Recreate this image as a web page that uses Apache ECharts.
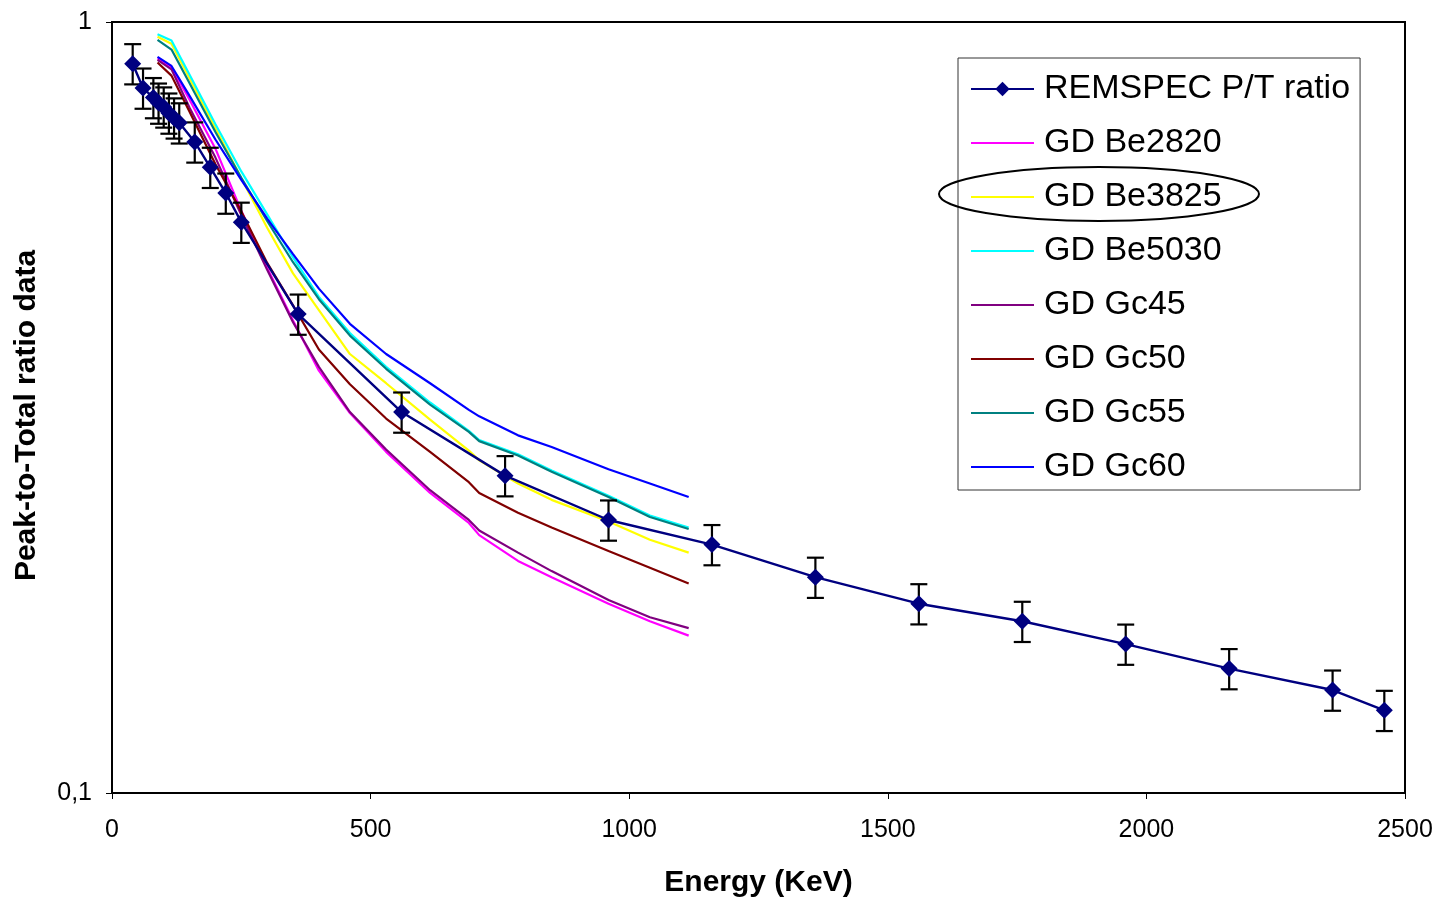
<!DOCTYPE html>
<html>
<head>
<meta charset="utf-8">
<script src="https://cdn.jsdelivr.net/npm/echarts@6/dist/echarts.min.js"></script>
<style>
  html, body { margin: 0; padding: 0; background: #fff; }
  #chart { width: 1442px; height: 903px; }
</style>
</head>
<body>
<div id="chart"></div>
<script>
// ---- data ----
const energyREM = [40, 60, 80, 90, 100, 110, 120, 130, 160, 190, 220, 250, 360, 560, 760, 960, 1160, 1360, 1560, 1760, 1960, 2160, 2360, 2460];
const ptREM = [0.883, 0.821, 0.798, 0.785, 0.776, 0.762, 0.751, 0.740, 0.699, 0.648, 0.600, 0.550, 0.418, 0.312, 0.258, 0.226, 0.210, 0.1905, 0.176, 0.167, 0.156, 0.145, 0.136, 0.128];
const errFraction = 0.06;

const energyGD = [88, 115, 150, 200, 250, 300, 350, 400, 460, 530, 615, 690, 710, 785, 850, 960, 1040, 1115];
const gdBe2820 = [0.897, 0.873, 0.793, 0.685, 0.569, 0.480, 0.410, 0.353, 0.311, 0.277, 0.245, 0.224, 0.216, 0.200, 0.1905, 0.176, 0.167, 0.160];
const gdBe3825 = [0.957, 0.937, 0.845, 0.728, 0.627, 0.541, 0.472, 0.423, 0.371, 0.340, 0.305, 0.278, 0.270, 0.252, 0.240, 0.225, 0.213, 0.205];
const gdBe5030 = [0.964, 0.946, 0.854, 0.737, 0.640, 0.563, 0.495, 0.440, 0.395, 0.357, 0.321, 0.295, 0.287, 0.275, 0.262, 0.243, 0.229, 0.221];
const gdGc45 = [0.893, 0.868, 0.774, 0.667, 0.562, 0.477, 0.408, 0.357, 0.312, 0.279, 0.247, 0.226, 0.219, 0.205, 0.194, 0.178, 0.169, 0.1636];
const gdGc50 = [0.886, 0.852, 0.765, 0.654, 0.568, 0.487, 0.429, 0.376, 0.339, 0.306, 0.277, 0.253, 0.245, 0.231, 0.221, 0.206, 0.196, 0.187];
const gdGc55 = [0.948, 0.921, 0.833, 0.720, 0.628, 0.552, 0.488, 0.437, 0.392, 0.355, 0.319, 0.294, 0.286, 0.274, 0.261, 0.242, 0.228, 0.220];
const gdGc60 = [0.901, 0.877, 0.802, 0.704, 0.624, 0.556, 0.500, 0.451, 0.406, 0.371, 0.340, 0.314, 0.308, 0.291, 0.281, 0.263, 0.252, 0.242];

const xTicks = [0, 500, 1000, 1500, 2000, 2500];
const yTicks = [0.1, 1];

const gdSeries = [
  { name: 'GD Be2820', values: gdBe2820, color: '#FF00FF' },
  { name: 'GD Be3825', values: gdBe3825, color: '#FFFF00' },
  { name: 'GD Be5030', values: gdBe5030, color: '#00FFFF' },
  { name: 'GD Gc45', values: gdGc45, color: '#800080' },
  { name: 'GD Gc50', values: gdGc50, color: '#800000' },
  { name: 'GD Gc55', values: gdGc55, color: '#008080' },
  { name: 'GD Gc60', values: gdGc60, color: '#0000FF' }
];
const mainName = 'REMSPEC P/T ratio';

const FONT = '"Liberation Sans", Arial, sans-serif';
const chart = echarts.init(document.getElementById('chart'), null, { renderer: 'canvas' });

const remPairs = energyREM.map((e, i) => [e, ptREM[i]]);

const series = [];
series.push({
  name: 'errorbars',
  type: 'custom',
  data: remPairs,
  z: 3,
  silent: true,
  renderItem: function (params, api) {
    const x = api.value(0), y = api.value(1);
    const hi = api.coord([x, y * (1 + errFraction)]);
    const lo = api.coord([x, y * (1 - errFraction)]);
    const w = 8.5;
    const st = { stroke: '#000', lineWidth: 2.2 };
    return {
      type: 'group',
      children: [
        { type: 'line', shape: { x1: hi[0], y1: hi[1], x2: lo[0], y2: lo[1] }, style: st },
        { type: 'line', shape: { x1: hi[0] - w, y1: hi[1], x2: hi[0] + w, y2: hi[1] }, style: st },
        { type: 'line', shape: { x1: lo[0] - w, y1: lo[1], x2: lo[0] + w, y2: lo[1] }, style: st }
      ]
    };
  }
});
gdSeries.forEach(s => {
  series.push({
    name: s.name,
    type: 'line',
    data: energyGD.map((e, i) => [e, s.values[i]]),
    symbol: 'none',
    z: 2,
    lineStyle: { color: s.color, width: 2.2 },
    itemStyle: { color: s.color },
    emphasis: { disabled: true }
  });
});
series.push({
  name: mainName,
  type: 'line',
  data: remPairs,
  symbol: 'diamond',
  symbolSize: 17,
  showAllSymbol: true,
  z: 4,
  lineStyle: { color: '#000080', width: 2.4 },
  itemStyle: { color: '#000080' },
  emphasis: { disabled: true }
});

const legendData = [{ name: mainName }].concat(gdSeries.map(s => ({ name: s.name, itemStyle: { opacity: 0 } })));

chart.setOption({
  animation: false,
  backgroundColor: '#fff',
  textStyle: { fontFamily: FONT },
  grid: {
    left: 112, right: 37, top: 22, bottom: 110,
    show: true, borderColor: '#000', borderWidth: 2, backgroundColor: 'transparent'
  },
  xAxis: {
    type: 'value',
    min: xTicks[0], max: xTicks[xTicks.length - 1], interval: 500,
    name: 'Energy (KeV)',
    nameLocation: 'middle',
    nameGap: 75,
    nameTextStyle: { fontSize: 30, fontWeight: 'bold', color: '#000', fontFamily: FONT },
    axisLine: { onZero: false, lineStyle: { color: '#000', width: 2 } },
    axisTick: { show: true, inside: false, length: 6, lineStyle: { color: '#000', width: 1 } },
    axisLabel: { fontSize: 25, color: '#000', margin: 25, fontFamily: FONT, formatter: v => String(v) },
    splitLine: { show: false }
  },
  yAxis: {
    type: 'log',
    logBase: 10,
    min: yTicks[0], max: yTicks[yTicks.length - 1],
    name: 'Peak-to-Total ratio data',
    nameLocation: 'middle',
    nameRotate: 90,
    nameGap: 70,
    nameTextStyle: { fontSize: 30, fontWeight: 'bold', color: '#000', fontFamily: FONT, padding: [0, 16, 0, 0] },
    axisLine: { lineStyle: { color: '#000', width: 2 } },
    axisTick: { show: true, inside: false, length: 6, lineStyle: { color: '#000', width: 1 } },
    minorTick: { show: false },
    axisLabel: {
      fontSize: 25, color: '#000', margin: 20, fontFamily: FONT,
      formatter: v => String(Math.round(v * 10) / 10).replace('.', ',')
    },
    splitLine: { show: false }
  },
  legend: {
    show: true,
    orient: 'vertical',
    left: 958,
    top: 58,
    data: legendData,
    itemWidth: 63,
    itemHeight: 18,
    itemGap: 14,
    padding: [11, 10, 3, 12],
    borderColor: '#333',
    borderWidth: 1,
    backgroundColor: '#fff',
    selectedMode: false,
    textStyle: { fontSize: 34, color: '#000', lineHeight: 40, fontFamily: FONT, padding: [0, 0, 0, 5] }
  },
  graphic: [{
    type: 'ellipse',
    shape: { cx: 1099, cy: 194, rx: 160, ry: 27 },
    style: { fill: 'none', stroke: '#000', lineWidth: 2 },
    z: 100
  }],
  series: series
});
</script>
</body>
</html>
